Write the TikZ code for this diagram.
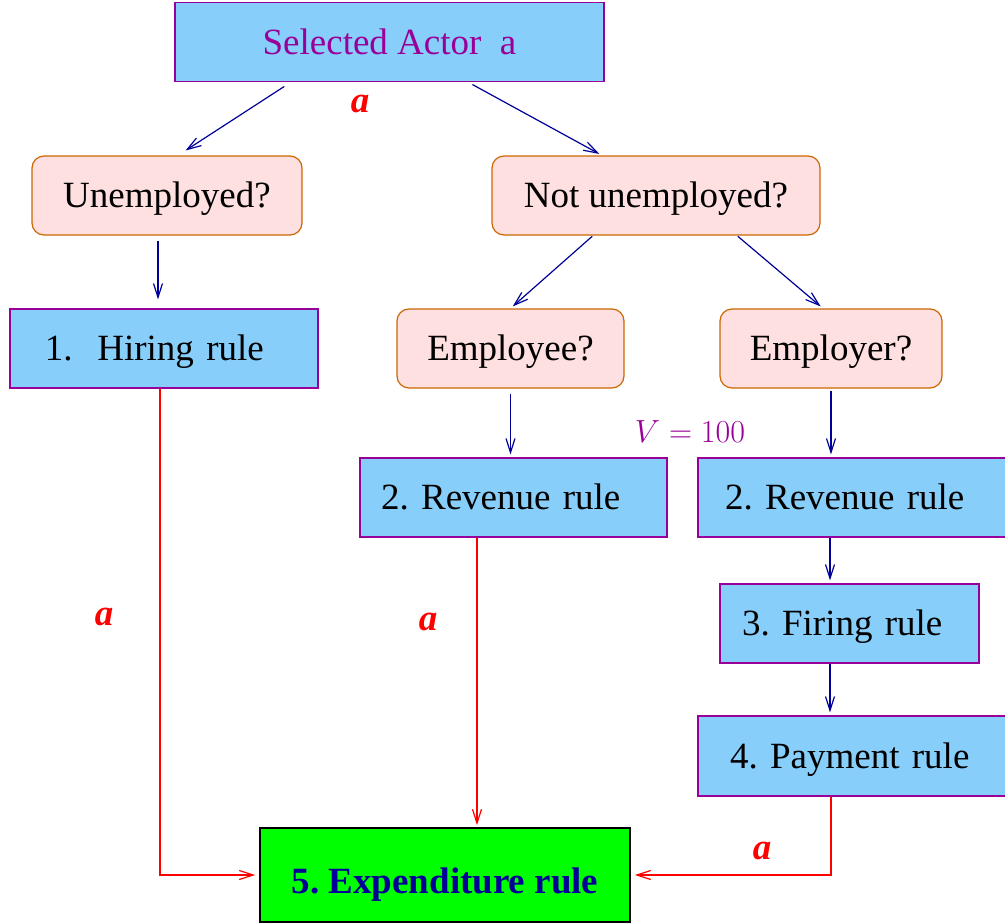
\documentclass[tikz,border=0pt]{standalone}
\usepackage{fix-cm}
\usepackage{fontspec}
\setmainfont{Liberation Serif}
\usetikzlibrary{arrows.meta}
\frenchspacing
\definecolor{mblue}{RGB}{135,206,250}
\definecolor{mpurple}{RGB}{153,0,153}
\definecolor{mpink}{RGB}{255,224,224}
\definecolor{morange}{RGB}{204,102,0}
\definecolor{mnavy}{RGB}{0,0,153}
\tikzset{rulebox/.style = {draw=mpurple, fill=mblue, line width=1.2pt, minimum height=79pt, align=left,
    text height=24.5pt, text depth=0pt},
  askbox/.style = {draw=morange, fill=mpink, rounded corners=12pt, line width=1.2pt, minimum height=79pt,
    text height=24.5pt, text depth=0pt},
  flow/.style = {mnavy, line width=1.2pt, -{Straight Barb[length=14pt,width=9pt]}, shorten <=5pt, shorten >=3pt},
  feed/.style = {red, line width=1.2pt, -{Straight Barb[length=14pt,width=9pt]}, shorten >=4pt},
  tag/.style = {red, font=\fontsize{37}{44}\selectfont\bfseries\itshape}}

\begin{document}
\begin{tikzpicture}[x=1pt, y=-1pt, font=\fontsize{37}{44}\selectfont]
  \useasboundingbox (0,0) rectangle (1005,924);

  \node [rulebox, minimum width=429pt, text=mpurple, align=center] (actor) at (389.5,42) {Selected Actor~~a};
  \node [askbox, minimum width=270pt] (unemp) at (167,195.5) {Unemployed?};
  \node [askbox, minimum width=328pt] (notunemp) at (656,195.5) {Not unemployed?};
  \node [rulebox, text width=238pt, inner xsep=35pt] (hiring) at (164,348.5) {1.~~Hiring rule};
  \node [askbox, minimum width=227pt] (employee) at (510.5,348.5) {Employee?};
  \node [askbox, minimum width=222pt] (employer) at (831,348.5) {Employer?};
  \node [rulebox, text width=265pt, inner xsep=21pt] (revenueA) at (513.5,497.5) {2. Revenue rule};
  \node [rulebox, text width=260pt, inner xsep=27pt] (revenueB) at (855,497.5) {2. Revenue rule};
  \node [rulebox, text width=215pt, inner xsep=22pt] (firing) at (849.5,623.5) {3. Firing rule};
  \node [rulebox, text width=250pt, inner xsep=32pt, minimum height=80pt] (payment) at (855,756) {4. Payment rule};
  \node [draw=black, fill=green, line width=1.6pt, minimum width=370pt, minimum height=94pt,
    text height=37.5pt, text depth=0pt,
    text=mnavy, font=\fontsize{37}{44}\selectfont\bfseries] (expend) at (445,875) {5. Expenditure rule};

  \node [text=mpurple, font=\fontsize{32}{38}\selectfont] (vlabel) at (690,432) {$V = 100$};
  \node [tag] (tagA) at (360,104) {a};
  \node [tag] (tagB) at (104,617) {a};
  \node [tag] (tagC) at (428,622) {a};
  \node [tag] (tagD) at (762,851) {a};

  % decisions
  \draw [flow, shorten <=8pt, shorten >=9pt] ([xshift=-98.5pt]actor.south) -- ([xshift=11pt]unemp.north);
  \draw [flow] ([xshift=78.5pt]actor.south) -- ([xshift=-54pt]notunemp.north);
  \draw [flow, shorten >=9pt] ([xshift=-9pt]unemp.south) -- ([xshift=-9pt]unemp.south |- hiring.north);
  \draw [flow, shorten <=1pt] ([xshift=-63pt]notunemp.south) -- (employee.north);
  \draw [flow, shorten <=1pt] ([xshift=81pt]notunemp.south) -- ([xshift=-8pt]employer.north);
  \draw [flow] (employee.south) -- (employee.south |- revenueA.north);
  \draw [flow, shorten <=2pt] (employer.south) -- (employer.south |- revenueB.north);
  \draw [flow, shorten <=0pt] ([xshift=-25pt]revenueB.south) -- ([xshift=-25pt]revenueB.south |- firing.north);
  \draw [flow, shorten <=0pt] ([xshift=-19.5pt]firing.south) -- ([xshift=-19.5pt]firing.south |- payment.north);

  % into expenditure
  \draw [feed] ([xshift=-4pt]hiring.south) |- (expend.west);
  \draw [feed, shorten >=2pt] ([xshift=-36.5pt]revenueA.south) -- ([xshift=-36.5pt]revenueA.south |- expend.north);
  \draw [feed] ([xshift=-24pt]payment.south) |- (expend.east);
\end{tikzpicture}
\end{document}
